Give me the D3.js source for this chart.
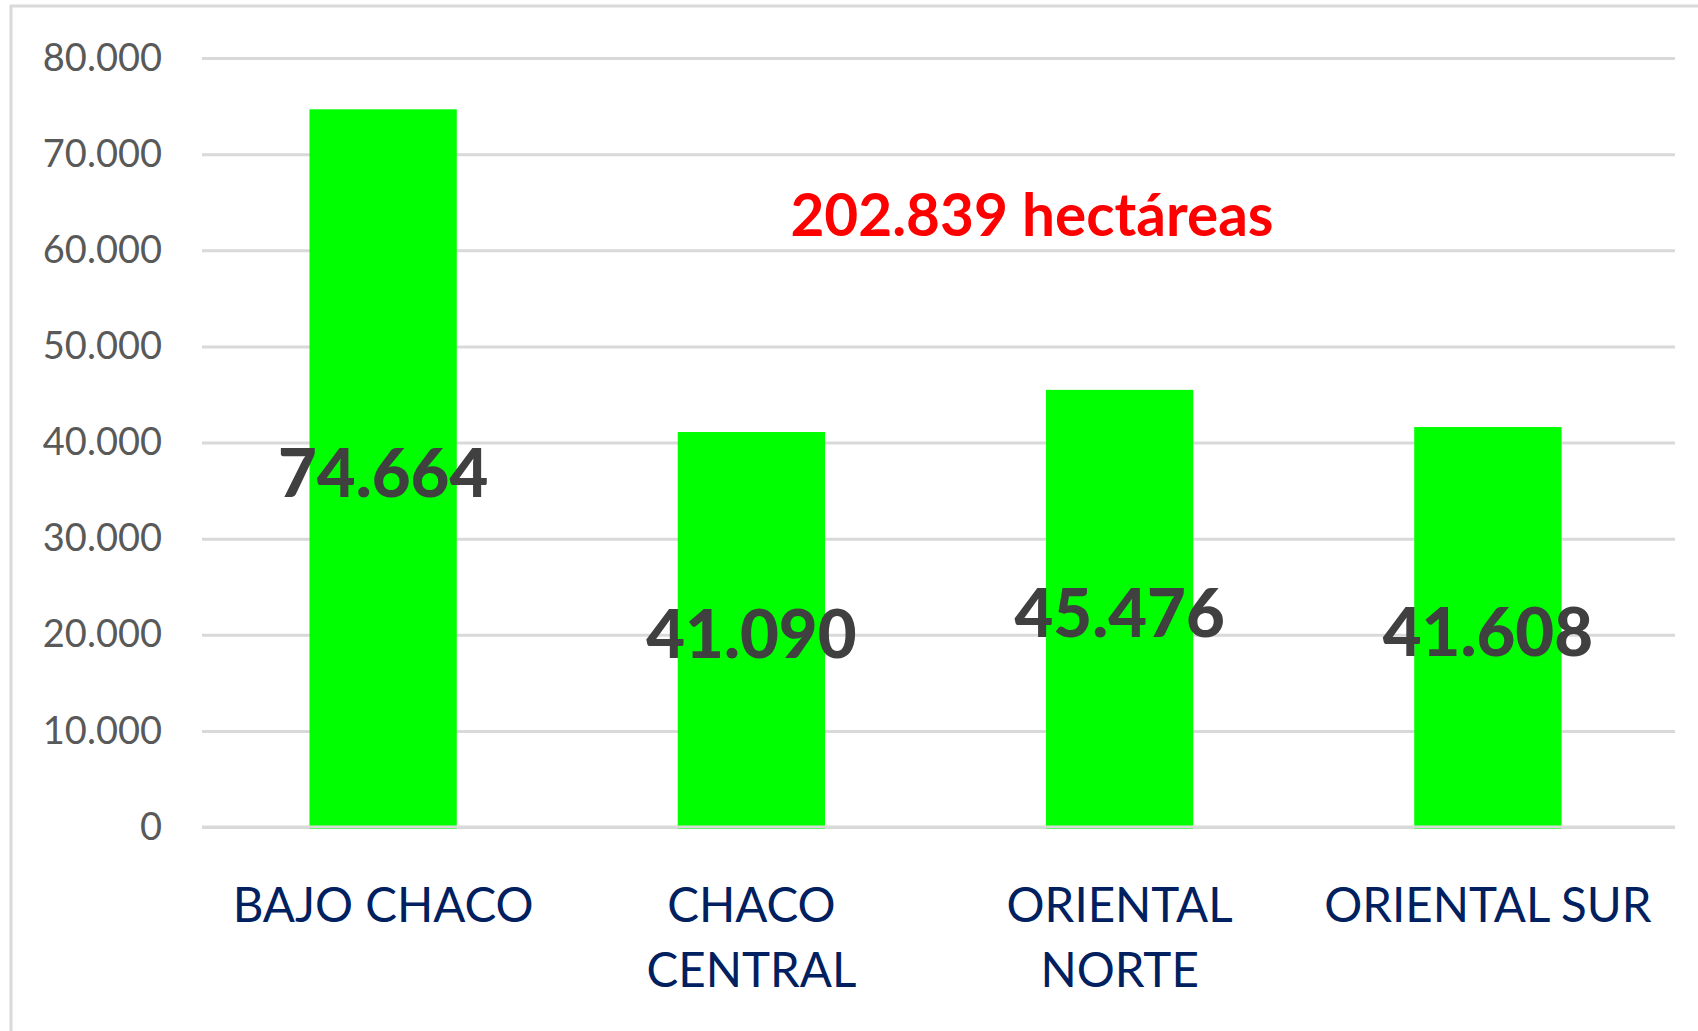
<!DOCTYPE html>
<html>
<head>
<meta charset="utf-8">
<script src="https://cdn.jsdelivr.net/npm/d3@7"></script>
<style>
  body { margin: 0; background: #fff; }
  text { font-family: Lato, "Open Sans", sans-serif; }
</style>
</head>
<body>
<div id="chart"></div>
<script>
// data
const regions = ["BAJO CHACO", "CHACO\nCENTRAL", "ORIENTAL\nNORTE", "ORIENTAL SUR"];
const hectares = [74664, 41090, 45476, 41608];
const yTicks = [0, 10000, 20000, 30000, 40000, 50000, 60000, 70000, 80000];
const totalLabel = "202.839 hectáreas";

const svg = d3.select("#chart")
    .append("svg")
    .attr("width", 1698)
    .attr("height", 1031);

const margin = { top: 58, right: 23, bottom: 204, left: 202 };
const graphWidth = 1698 - margin.left - margin.right;
const graphHeight = 1031 - margin.top - margin.bottom;

// outer chart border
svg.append("rect")
    .attr("x", 11)
    .attr("y", 6)
    .attr("width", 1720)
    .attr("height", 1060)
    .attr("fill", "none")
    .attr("stroke", "#d9d9d9")
    .attr("stroke-width", 3);

const graph = svg.append("g")
    .attr("transform", `translate(${margin.left}, ${margin.top})`);

const locale = d3.formatLocale({ decimal: ",", thousands: ".", grouping: [3], currency: ["", ""] });
const fmt = locale.format(",");

const y = d3.scaleLinear()
    .domain([0, 80000])
    .range([graphHeight, 0]);

const x = d3.scaleBand()
    .domain(regions)
    .range([-3, graphWidth - 3])
    .paddingInner(0.6)
    .paddingOuter(0.3);

// gridlines + y labels
const yAxisGroup = graph.append("g")
    .call(d3.axisLeft(y)
        .tickValues(yTicks)
        .tickSize(-graphWidth)
        .tickPadding(40)
        .tickFormat(d => fmt(d)));
yAxisGroup.select(".domain").remove();
yAxisGroup.selectAll("line")
    .attr("stroke", "#d9d9d9")
    .attr("stroke-width", 3);
yAxisGroup.selectAll("text")
    .style("fill", "#595959")
    .style("font-size", "38px")
    .style("font-family", "Lato, sans-serif");

graph.selectAll("rect.bar")
    .data(hectares)
    .enter()
    .append("rect")
    .attr("class", "bar")
    .attr("x", (d, i) => x(regions[i]))
    .attr("y", d => y(d))
    .attr("width", x.bandwidth())
    .attr("height", d => graphHeight - y(d) + 2)
    .attr("fill", "#00ff00");

// baseline drawn over the bar feet
graph.append("line")
    .attr("x1", 0)
    .attr("x2", graphWidth)
    .attr("y1", y(0))
    .attr("y2", y(0))
    .attr("stroke", "#d9d9d9")
    .attr("stroke-width", 3);

// value labels, centred in each bar
graph.selectAll("text.value")
    .data(hectares)
    .enter()
    .append("text")
    .attr("class", "value")
    .attr("x", (d, i) => x(regions[i]) + x.bandwidth() / 2)
    .attr("y", d => (y(d) + graphHeight) / 2)
    .attr("dy", "0.43em")
    .attr("text-anchor", "middle")
    .style("font-size", "67px")
    .style("font-weight", "900")
    .style("fill", "#404040")
    .text(d => fmt(d));

// x labels
const xAxisGroup = graph.append("g")
    .attr("transform", `translate(0, ${graphHeight})`)
    .call(d3.axisBottom(x).tickSize(0).tickFormat(""));
xAxisGroup.select(".domain").remove();
xAxisGroup.selectAll(".tick").each(function(d) {
    const t = d3.select(this).append("text")
        .attr("y", 95)
        .attr("text-anchor", "middle")
        .style("fill", "#002060")
        .style("font-size", "47.5px")
        .style("font-family", "Lato, sans-serif");
    d.split("\n").forEach((line, i) => {
        t.append("tspan")
            .attr("x", 0)
            .attr("dy", i === 0 ? 0 : 65)
            .text(line);
    });
});

svg.append("text")
    .attr("x", 1032)
    .attr("y", 236)
    .attr("text-anchor", "middle")
    .style("font-size", "58.5px")
    .style("font-weight", "bold")
    .style("fill", "#ff0000")
    .text(totalLabel);
</script>
</body>
</html>
